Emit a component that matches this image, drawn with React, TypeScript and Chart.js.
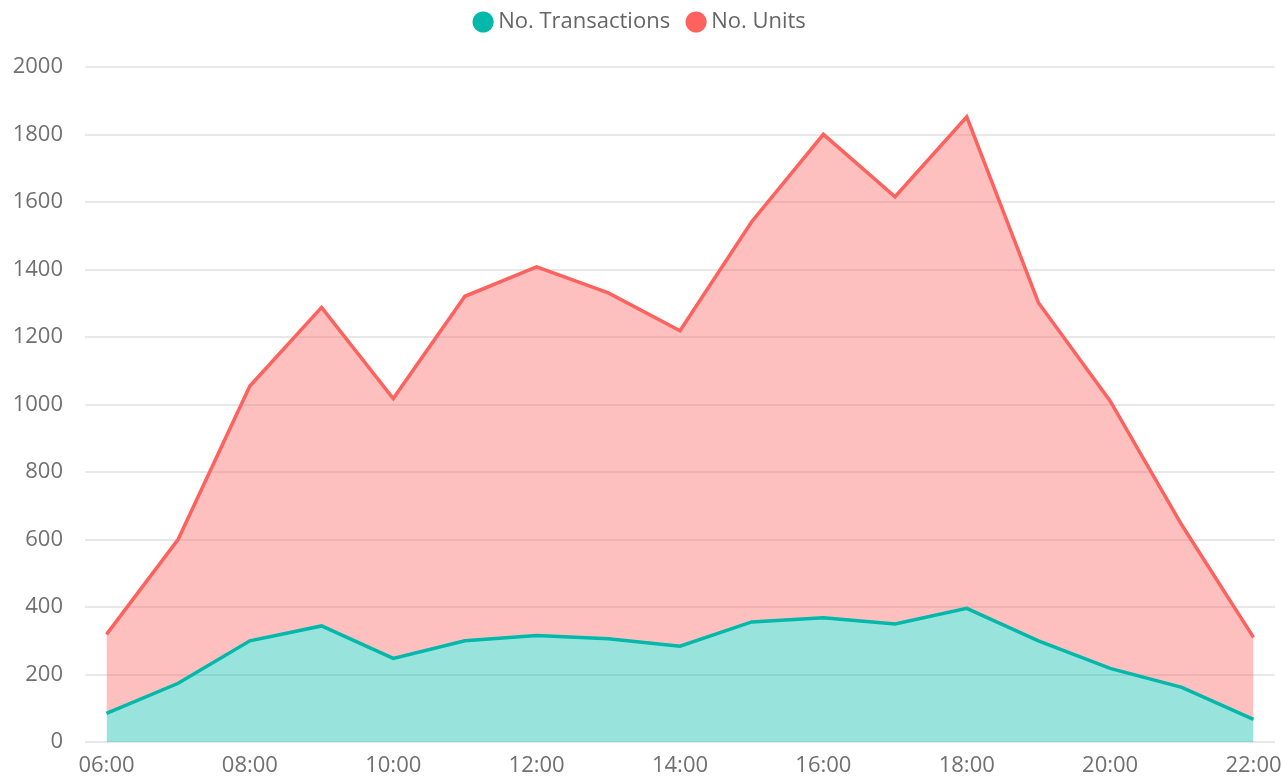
import { useEffect, useRef } from 'react';
import { Chart, registerables } from 'chart.js';

Chart.register(...registerables);

const hours = ['06:00', '07:00', '08:00', '09:00', '10:00', '11:00', '12:00', '13:00', '14:00', '15:00', '16:00', '17:00', '18:00', '19:00', '20:00', '21:00', '22:00'];
const transactions = [85, 174, 300, 344, 248, 300, 316, 306, 284, 356, 368, 350, 396, 300, 218, 162, 67];
const units = [319, 601, 1055, 1288, 1018, 1321, 1408, 1331, 1219, 1542, 1801, 1616, 1853, 1302, 1011, 643, 310];
const yTicks = { min: 0, max: 2000, step: 200 };

const FONT = "'Open Sans', 'Noto Sans', sans-serif";

export default function App() {
  const ref = useRef<HTMLCanvasElement | null>(null);

  useEffect(() => {
    if (!ref.current) return;
    const chart = new Chart(ref.current, {
      type: 'line',
      data: {
        datasets: [
          {
            label: 'No. Transactions',
            data: transactions.map((v, i) => ({ x: i, y: v })),
            borderColor: '#01B8AA',
            backgroundColor: 'rgba(1,184,170,0.4)',
            borderWidth: 3.5,
            pointRadius: 0,
            fill: 'origin',
            tension: 0,
          },
          {
            label: 'No. Units',
            data: units.map((v, i) => ({ x: i, y: v })),
            borderColor: '#FD625E',
            backgroundColor: 'rgba(253,98,94,0.4)',
            borderWidth: 3.5,
            pointRadius: 0,
            fill: '-1',
            tension: 0,
          },
        ],
      },
      options: {
        animation: false,
        responsive: true,
        maintainAspectRatio: false,
        layout: { padding: { left: 10, right: 8, top: -11, bottom: 0 } },
        plugins: {
          legend: {
            position: 'top',
            align: 'center',
            labels: {
              usePointStyle: true,
              pointStyle: 'circle',
              boxWidth: 8,
              boxHeight: 15,
              padding: 22,
              color: '#666666',
              font: { family: FONT, size: 22 },
              generateLabels: (c: any) => {
                const items = Chart.defaults.plugins.legend.labels.generateLabels(c);
                return items.map((it: any) => ({ ...it, fillStyle: it.strokeStyle, lineWidth: 0 }));
              },
            },
          },
          title: {
            display: true,
            text: '',
            weight: 500,
            font: { size: 1 },
            padding: { top: 23, bottom: 0 },
          },
          tooltip: { enabled: false },
        },
        scales: {
          x: {
            type: 'linear',
            min: -0.3,
            max: hours.length - 1 + 0.3,
            grid: { display: false, drawTicks: false },
            border: { display: false },
            ticks: {
              stepSize: 2,
              includeBounds: false,
              autoSkip: false,
              maxRotation: 0,
              padding: 11,
              color: '#707070',
              font: { family: FONT, size: 22 },
              callback: (v: any) => (Number.isInteger(v) ? hours[v] : ''),
            },
            afterFit: (s: any) => {
              s.height = 38;
              s.paddingLeft = 0;
              s.paddingRight = 0;
            },
          },
          y: {
            min: yTicks.min,
            max: yTicks.max,
            grid: { color: '#e8e8e8', lineWidth: 2, drawTicks: false },
            border: { display: false },
            ticks: {
              stepSize: yTicks.step,
              padding: 22,
              color: '#707070',
              font: { family: FONT, size: 22 },
              callback: (v: any) => String(v),
            },
            afterFit: (s: any) => {
              s.width = 75;
            },
          },
        },
      },
    });
    return () => chart.destroy();
  }, []);

  return (
    <div style={{ position: 'absolute', left: 0, top: 0, width: 1283, height: 780, background: '#fff' }}>
      <canvas ref={ref} />
    </div>
  );
}
